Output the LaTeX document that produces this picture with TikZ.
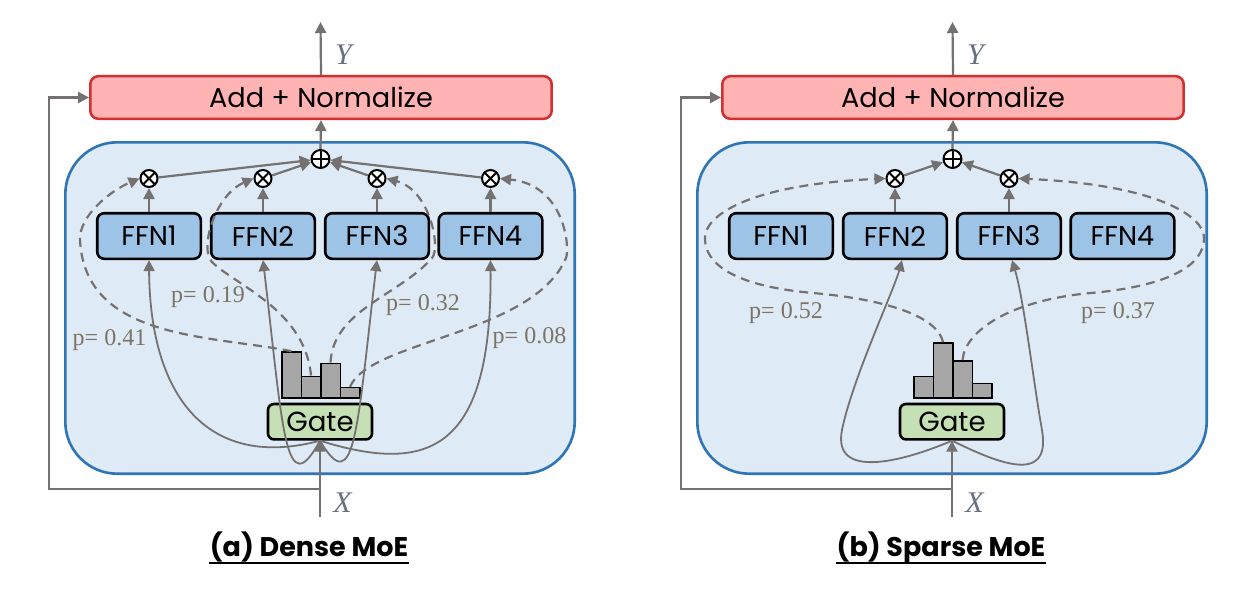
\documentclass[tikz,border=0pt]{standalone}
\usepackage{fontspec}
\setmainfont{Poppins}
\newfontfamily\serifp{Liberation Serif}
\usetikzlibrary{arrows.meta}
\definecolor{lgray}{RGB}{118,113,113}
\definecolor{addfill}{RGB}{255,179,179}
\definecolor{addborder}{RGB}{211,47,47}
\definecolor{panelfill}{RGB}{222,235,247}
\definecolor{panelborder}{RGB}{46,117,182}
\definecolor{ffnfill}{RGB}{157,195,230}
\definecolor{gatefill}{RGB}{197,224,180}
\definecolor{barfill}{RGB}{166,166,166}
\definecolor{pcolor}{RGB}{125,115,100}
\definecolor{varcolor}{RGB}{105,112,128}
\tikzset{
  arr/.style={-{Triangle[length=5.5pt,width=5.5pt]}},
  mainline/.style={draw=lgray,line width=1.1pt},
  fbline/.style={draw=lgray,line width=1.2pt},
  solidcurve/.style={draw=lgray,line width=0.9pt},
  dashcurve/.style={draw=lgray,line width=1.1pt,dash pattern=on 4.5pt off 3pt},
  addbox/.style={draw=addborder,fill=addfill,line width=1.25pt,rounded corners=4pt,
    minimum width=230.7pt,minimum height=21.3pt,inner sep=0pt,font=\fontsize{13.6pt}{15pt}\selectfont},
  panelbox/.style={draw=panelborder,fill=panelfill,line width=1.3pt,rounded corners=26pt,
    minimum width=254.7pt,minimum height=165.7pt,inner sep=0pt},
  ffnbox/.style={draw=black,fill=ffnfill,line width=1.3pt,rounded corners=3.5pt,
    minimum width=51.8pt,minimum height=22.8pt,inner sep=0pt,font=\fontsize{13.6pt}{15pt}\selectfont},
  gatebox/.style={draw=black,fill=gatefill,line width=1.3pt,rounded corners=3pt,
    minimum width=52pt,minimum height=17.7pt,inner sep=0pt,font=\fontsize{13.8pt}{15pt}\selectfont},
  barbox/.style={draw=black,fill=barfill,line width=0.75pt,minimum width=9.75pt,
    inner sep=0pt,anchor=south west},
  mulnode/.style={circle,draw=black,fill=white,line width=1pt,minimum size=8.5pt,inner sep=0pt,
    path picture={\draw[black,line width=1pt] (path picture bounding box.north west) -- (path picture bounding box.south east)
      (path picture bounding box.north east) -- (path picture bounding box.south west);}},
  sumnode/.style={circle,draw=black,fill=white,line width=1pt,minimum size=9pt,inner sep=0pt,
    path picture={\draw[black,line width=1pt] (path picture bounding box.north) -- (path picture bounding box.south)
      (path picture bounding box.west) -- (path picture bounding box.east);}},
  plabel/.style={text=pcolor,font=\serifp\fontsize{12pt}{14pt}\selectfont,inner sep=0pt},
  varlabel/.style={text=varcolor,font=\serifp\itshape\fontsize{15pt}{17pt}\selectfont,inner sep=0pt},
  titlelabel/.style={font=\bfseries\fontsize{13.5pt}{16pt}\selectfont,inner sep=0pt},
  uline/.style={draw=black,line width=1pt}
}
\newcommand\moecommon[1]{%
  \node[panelbox] (#1-panel) at (320,308) {};
  \node[addbox] (#1-add) at (321,97.5) {Add + Normalize};
  \node[ffnbox] (#1-f1) at (149,236) {FFN1};
  \node[ffnbox] (#1-f2) at (263,236) {FFN2};
  \node[ffnbox] (#1-f3) at (377,236) {FFN3};
  \node[ffnbox] (#1-f4) at (490.5,236) {FFN4};
  \node[gatebox] (#1-gate) at (320,421.7) {Gate};
  \node[sumnode] (#1-sum) at (320.5,159) {};
  \coordinate (#1-yout) at (320.5,22);
  \coordinate (#1-xin) at (320,517);
  \coordinate (#1-split) at (320,489);
  \coordinate (#1-fbl) at (49,489);
  \draw[mainline,arr] (#1-add.north) -- (#1-yout);
  \draw[mainline,arr] (#1-sum.north) -- (#1-add.south);
  \draw[fbline,arr] (#1-split) -- (#1-fbl) |- (#1-add.west);
  \draw[mainline,arr] (#1-xin) -- (#1-gate.south);
  \node[varlabel] (#1-ylab) at (343.5,55) {Y};
  \node[varlabel] (#1-xlab) at (342.5,502.5) {X};
}
\begin{document}
\begin{tikzpicture}[x=0.5pt,y=-0.5pt]
\fill[white] (0,0) rectangle (1244,589);
\useasboundingbox (0,0) rectangle (1244,589);

% ---------------- (a) Dense MoE ----------------
\moecommon{a}
\node[barbox,minimum height=22.9pt] (a-bar1) at (281,398.5) {};
\node[barbox,minimum height=10.75pt] (a-bar2) at (300.5,398.5) {};
\node[barbox,minimum height=17.25pt] (a-bar3) at (320,398.5) {};
\node[barbox,minimum height=5.1pt] (a-bar4) at (339.5,398.5) {};
\node[mulnode] (a-m1) at (149,178.5) {};
\node[mulnode] (a-m2) at (263,178.5) {};
\node[mulnode] (a-m3) at (377,178.5) {};
\node[mulnode] (a-m4) at (490.5,178.5) {};
\foreach \i in {1,...,4}{
  \draw[mainline,arr] (a-f\i.north) -- (a-m\i.south);
  \draw[mainline,arr] (a-m\i) -- (a-sum);
}
\draw[dashcurve,arr] (a-bar1.north) .. controls (210,335) and (85,340) .. (80,240)
  .. controls (79,215) and (112,190) .. (a-m1.west);
\draw[dashcurve,arr] (a-bar2.north) .. controls (305,310) and (235,285) .. (212,262)
  .. controls (199,249) and (215,195) .. (a-m2.west);
\draw[dashcurve,arr] (a-bar3.north) .. controls (333,310) and (400,295) .. (432,258)
  .. controls (441,248) and (430,190) .. (a-m3.east);
\draw[dashcurve,arr] (a-bar4.north) .. controls (370,340) and (533,335) .. (566,258)
  .. controls (570,248) and (565,185) .. (a-m4.east);
\draw[solidcurve,arr] (a-gate.south) .. controls (210,470) and (150,400) .. (a-f1.south);
\draw[solidcurve,arr] (a-gate.south) .. controls (285,505) and (283,430) .. (a-f2.south);
\draw[solidcurve,arr] (a-gate.south) .. controls (355,500) and (357,430) .. (a-f3.south);
\draw[solidcurve,arr] (a-gate.south) .. controls (430,475) and (492,450) .. (a-f4.south);
\node[plabel] (a-p1) at (109.5,340) {p= 0.41};
\node[plabel] (a-p2) at (208,297) {p= 0.19};
\node[plabel] (a-p3) at (423,305) {p= 0.32};
\node[plabel] (a-p4) at (529.5,338.5) {p= 0.08};
\node[titlelabel,anchor=base] (a-title) at (309,556) {(a) Dense MoE};
\draw[uline] ([yshift=-3.6pt]a-title.base west) -- ([yshift=-3.6pt]a-title.base east);

% ---------------- (b) Sparse MoE ----------------
\begin{scope}[xshift=316pt]
\moecommon{b}
\node[barbox,minimum height=10.75pt] (b-bar1) at (281,398.5) {};
\node[barbox,minimum height=27.4pt] (b-bar2) at (300.5,398.5) {};
\node[barbox,minimum height=18.4pt] (b-bar3) at (320,398.5) {};
\node[barbox,minimum height=7.25pt] (b-bar4) at (339.5,398.5) {};
\node[mulnode] (b-m2) at (263,178.5) {};
\node[mulnode] (b-m3) at (377,178.5) {};
\foreach \i in {2,3}{
  \draw[mainline,arr] (b-f\i.north) -- (b-m\i.south);
  \draw[mainline,arr] (b-m\i) -- (b-sum);
}
\draw[dashcurve,arr] (b-bar2.north) .. controls (306,318) and (260,300) .. (181,293)
  .. controls (130,288.5) and (72,275) .. (73,237)
  .. controls (73.5,218) and (110,185) .. (b-m2.west);
\draw[dashcurve,arr] (b-bar3.north) .. controls (333,330) and (380,300) .. (459,293)
  .. controls (510,288.5) and (573,275) .. (572,237)
  .. controls (571.5,218) and (530,185) .. (b-m3.east);
\draw[solidcurve,arr] (b-gate.south) .. controls (270,462) and (200,480) .. (210,430)
  .. controls (220,380) and (262,290) .. ([xshift=3.5pt]b-f2.south);
\draw[solidcurve,arr] (b-gate.south) .. controls (360,460) and (420,488) .. (410,430)
  .. controls (402,386) and (392,300) .. ([xshift=1.5pt]b-f3.south);
\node[plabel] (b-p2) at (154,312.7) {p= 0.52};
\node[plabel] (b-p3) at (486,312.7) {p= 0.37};
\node[titlelabel,anchor=base] (b-title) at (309,556) {(b) Sparse MoE};
\draw[uline] ([yshift=-3.6pt]b-title.base west) -- ([yshift=-3.6pt]b-title.base east);
\end{scope}
\end{tikzpicture}
\end{document}
